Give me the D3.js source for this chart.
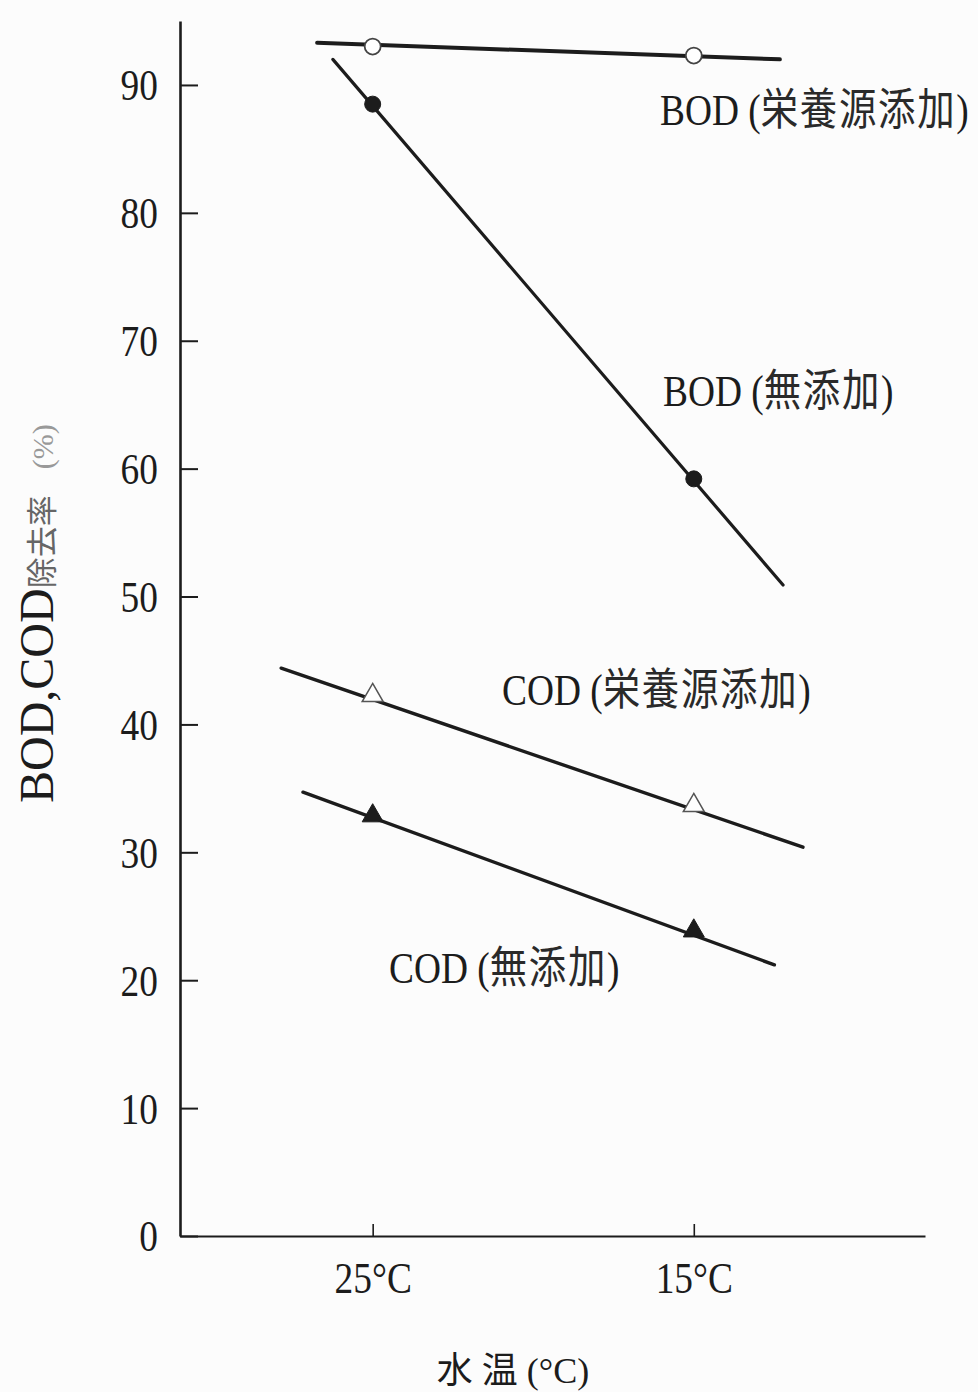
<!DOCTYPE html>
<html>
<head>
<meta charset="utf-8">
<script src="https://cdn.jsdelivr.net/npm/d3@7/dist/d3.min.js"></script>
<style>
  html, body { margin: 0; padding: 0; background: #fcfcfc; }
  svg { display: block; }
  text { font-family: "Liberation Serif", "Noto Sans CJK JP", serif; fill: #1c1c1c; }
</style>
</head>
<body>
<svg id="chart" width="978" height="1392"></svg>
<script>
// Water temperature (°C) at which removal was measured
const temperatures = [25, 15];

// Removal rate (%) at each temperature
const bodNutrient = [93.0, 92.3];   // BOD, nutrient added
const bodPlain    = [88.5, 59.2];   // BOD, no additive
const codNutrient = [42.1, 33.5];   // COD, nutrient added
const codPlain    = [32.7, 23.7];   // COD, no additive

// Extent of each drawn trend line: [temperature, removal %] at both ends
const bodNutrientLine = [[26.73, 93.3], [12.32, 92.0]];
const bodPlainLine    = [[26.24, 92.0], [12.22, 50.9]];
const codNutrientLine = [[27.85, 44.4], [11.60, 30.4]];
const codPlainLine    = [[27.17, 34.7], [12.49, 21.2]];

// Axis ticks and labels
const yTicks = [0, 10, 20, 30, 40, 50, 60, 70, 80, 90];
const xTickLabels = ["25°C", "15°C"];

const series = [
  { code: "BOD", note: "栄養源添加", values: bodNutrient, line: bodNutrientLine, marker: "circle", filled: false, width: 4 },
  { code: "BOD", note: "無添加",     values: bodPlain,    line: bodPlainLine,    marker: "circle", filled: true,  width: 3.2 },
  { code: "COD", note: "栄養源添加", values: codNutrient, line: codNutrientLine, marker: "triangle", filled: false, width: 3.4 },
  { code: "COD", note: "無添加",     values: codPlain,    line: codPlainLine,    marker: "triangle", filled: true,  width: 3.4 }
];

// Where each series caption sits (left end, baseline)
const captionPos = [[660, 125], [663, 406], [502, 705], [389, 983]];

const svg = d3.select("#chart");
const ink = "#1c1c1c";

const x = d3.scaleLinear().domain([31, 7.8]).range([180, 925]);
const y = d3.scaleLinear().domain([0, 95]).range([1236, 21]);

// Horizontal condensing of the serif lettering
const squeeze = 0.85;

// Y axis: ticks point inward
const yAxis = svg.append("g")
  .attr("transform", `translate(${x(31)},0)`)
  .call(d3.axisLeft(y).tickValues(yTicks).tickSize(-18).tickSizeOuter(0).tickPadding(22).tickFormat(d3.format("d")));
yAxis.select(".domain").attr("stroke", ink).attr("stroke-width", 2.6);
yAxis.selectAll(".tick line").attr("stroke", ink).attr("stroke-width", 2);
yAxis.selectAll(".tick text")
  .attr("font-size", 44)
  .attr("font-family", "Liberation Serif, serif")
  .attr("fill", ink)
  .attr("dy", "0.34em")
  .attr("transform", function () {
    const tx = +d3.select(this).attr("x");
    return `translate(${tx * (1 - squeeze)},0) scale(${squeeze},1)`;
  });

// X axis: two temperature ticks pointing inward
const xAxis = svg.append("g")
  .attr("transform", `translate(0,${y(0)})`)
  .call(d3.axisBottom(x).tickValues(temperatures).tickSize(-12).tickSizeOuter(0).tickPadding(26)
    .tickFormat((d, i) => xTickLabels[i]));
xAxis.select(".domain").attr("stroke", ink).attr("stroke-width", 2.2);
xAxis.selectAll(".tick line").attr("stroke", ink).attr("stroke-width", 1.6);
xAxis.selectAll(".tick text")
  .attr("font-size", 44)
  .attr("font-family", "Liberation Serif, serif")
  .attr("fill", ink)
  .attr("transform", `scale(${squeeze},1)`);

// Trend lines
const lineGen = d3.line().x(d => x(d[0])).y(d => y(d[1]));
svg.append("g").selectAll("path")
  .data(series)
  .join("path")
  .attr("d", d => lineGen(d.line))
  .attr("fill", "none")
  .attr("stroke", ink)
  .attr("stroke-width", d => d.width)
  .attr("stroke-linecap", "round");

// Measured points
const pts = series.flatMap(s => s.values.map((v, i) => ({ s, t: temperatures[i], v })));
const triangle = d3.symbol().type(d3.symbolTriangle).size(190);
const markers = svg.append("g");
markers.selectAll("circle")
  .data(pts.filter(p => p.s.marker === "circle"))
  .join("circle")
  .attr("cx", p => x(p.t))
  .attr("cy", p => y(p.v))
  .attr("r", 8)
  .attr("fill", p => p.s.filled ? ink : "#ffffff")
  .attr("stroke", p => p.s.filled ? ink : "#444")
  .attr("stroke-width", p => p.s.filled ? 1 : 1.8);
markers.selectAll("path")
  .data(pts.filter(p => p.s.marker === "triangle"))
  .join("path")
  .attr("d", triangle)
  .attr("transform", p => `translate(${x(p.t)},${y(p.v) - 2})`)
  .attr("fill", p => p.s.filled ? ink : "#ffffff")
  .attr("stroke", p => p.s.filled ? ink : "#555")
  .attr("stroke-width", p => p.s.filled ? 1 : 1.5);

// Series captions: code, then the condition in brackets
const captions = svg.append("g").selectAll("text")
  .data(series)
  .join("text")
  .attr("transform", (d, i) => `translate(${captionPos[i][0]},${captionPos[i][1]}) scale(${squeeze},1)`)
  .attr("font-size", 44)
  .attr("xml:space", "preserve");
captions.append("tspan").text(d => d.code + " (");
captions.append("tspan").attr("letter-spacing", 2).attr("fill", "#2a2a2a").text(d => d.note);
captions.append("tspan").text(")");

// X axis title
svg.append("text")
  .attr("x", 513)
  .attr("y", 1383)
  .attr("text-anchor", "middle")
  .attr("font-size", 36)
  .attr("xml:space", "preserve")
  .text("水 温 (°C)");

// Y axis title
const yTitle = svg.append("text")
  .attr("transform", "translate(53,803) rotate(-90)");
yTitle.append("tspan").attr("font-size", 48).text("BOD,COD");
yTitle.append("tspan").attr("font-size", 31).attr("fill", "#666").text("除去率");
yTitle.append("tspan").attr("font-size", 30).attr("fill", "#999").attr("dx", 26).text("(%)");
</script>
</body>
</html>
